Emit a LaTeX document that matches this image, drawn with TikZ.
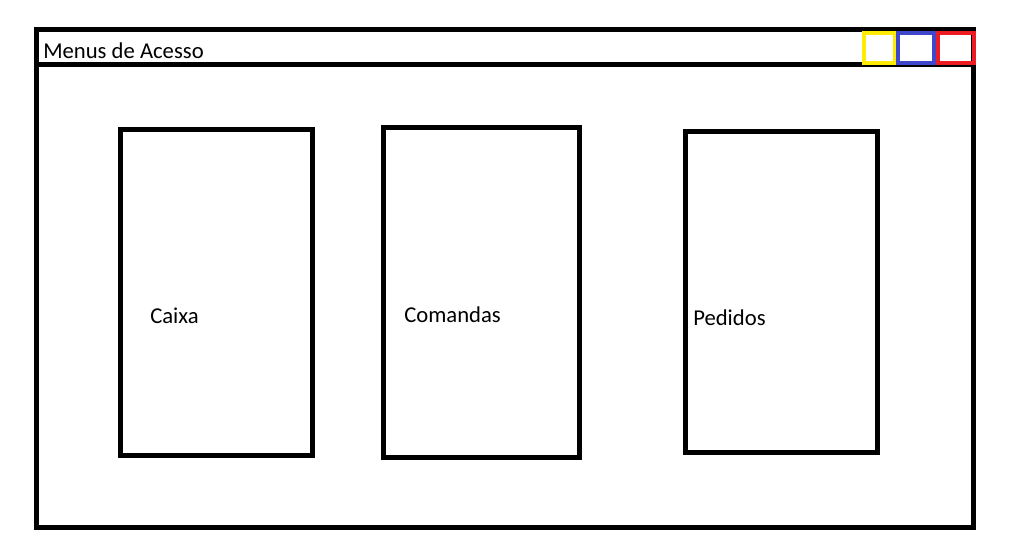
\documentclass[tikz,border=0pt]{standalone}
\usepackage{fontspec}
\setmainfont{Carlito}
\definecolor{btnyellow}{RGB}{255,236,0}
\definecolor{btnblue}{RGB}{63,72,204}
\definecolor{btnred}{RGB}{237,28,36}
\begin{document}
\begin{tikzpicture}[x=0.75pt, y=-0.75pt,
        frame/.style={draw, line width=3.75pt},
        panel/.style={draw, line width=3.75pt, inner sep=0pt},
        btn/.style={draw, line width=3pt, inner sep=0pt},
        lbl/.style={anchor=west, inner sep=0pt, font=\fontsize{17}{19}\selectfont}]
        \useasboundingbox (0, 0) rectangle (1016, 541);

        \draw[frame] (36, 30) rectangle (973, 527);
        \draw[frame] (36, 65) -- (973, 65);
        \node[lbl] (title) at (43, 51) {Menus de Acesso};

        \draw[btn, btnyellow] (864, 33) rectangle (895, 63);
        \draw[btn, btnblue] (898, 33) rectangle (934, 63);
        \draw[btn, btnred] (938, 33) rectangle (974, 63);

        \node[panel, minimum width=144pt, minimum height=245pt] (caixa) at (216.5, 292.5) {};
        \node[panel, minimum width=147pt, minimum height=248pt] (comandas) at (481, 292.5) {};
        \node[panel, minimum width=144pt, minimum height=241pt] (pedidos) at (781.5, 292) {};

        \node[lbl] (lcaixa) at (150, 316) {Caixa};
        \node[lbl] (lcomandas) at (404, 315) {Comandas};
        \node[lbl] (lpedidos) at (693, 318) {Pedidos};
    \end{tikzpicture}
\end{document}
